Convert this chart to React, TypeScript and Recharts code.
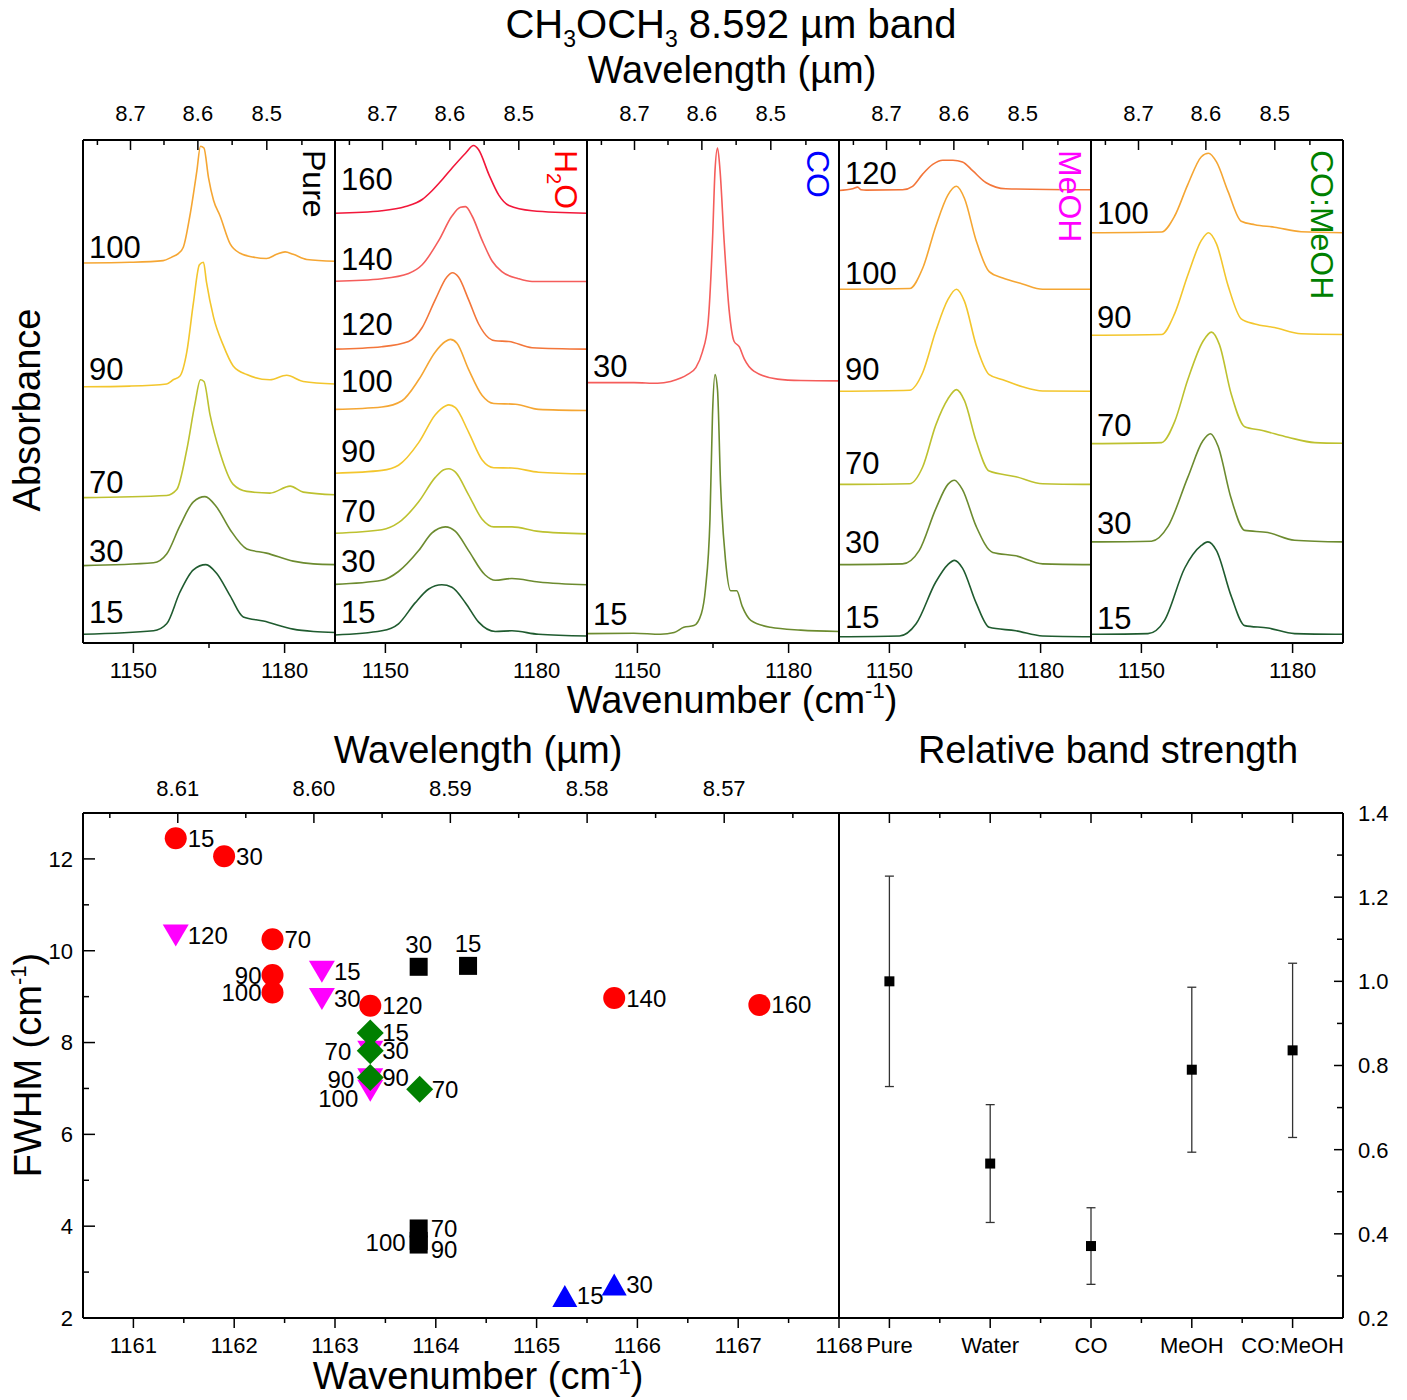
import React from 'react';
import { LineChart, Line, XAxis, YAxis, ReferenceDot, ScatterChart, Scatter, ErrorBar } from 'recharts';

const FONT = '"Liberation Sans", Arial, Helvetica, sans-serif';
type Pt = [number, number];

// ---------------- Spectra (wavenumber cm-1, offset absorbance arb. units) ----------------
const PURE_100: Pt[] = [[1140,380],[1149.3,380.7],[1155.9,382.4],[1157.6,385.9],[1158.9,389.4],[1159.9,395.7],[1161.2,427],[1162.6,472.4],[1163.3,496.8],[1164.0,495],[1164.9,465.4],[1165.9,442.7],[1167.2,427],[1169.2,399.1],[1171.2,389.7],[1173.8,385.9],[1176.4,384.5],[1178.4,388.7],[1180.1,391.1],[1181.7,388.7],[1184.4,383.5],[1190,381.7]];
const PURE_90: Pt[] = [[1140,256.2],[1149.3,256.9],[1156.6,259],[1157.9,263.2],[1159.2,266.7],[1160.6,291.1],[1161.9,339.9],[1163.1,378.2],[1163.9,380.7],[1164.5,360.8],[1165.9,325.9],[1167.8,298.1],[1169.8,277.1],[1172.5,268.4],[1177.1,263.2],[1180.4,267.7],[1183.7,261.5],[1190,259]];
const PURE_70: Pt[] = [[1140,145.4],[1156.6,147.5],[1158.6,153.4],[1160.6,193.5],[1162.2,238.8],[1163.3,263.2],[1164.0,261.5],[1165.2,228.3],[1167.2,190],[1169.8,158.6],[1172.5,151.6],[1177.1,149.9],[1181.1,156.9],[1183.7,150.9],[1190,148.2]];
const PURE_30: Pt[] = [[1140,77.4],[1154,80.2],[1156.6,88.9],[1159.2,116.8],[1161.9,141.2],[1164.2,146.4],[1166.5,136],[1169.2,113.3],[1172.5,94.1],[1176.4,89.9],[1181.7,81.9],[1185.7,79.1],[1190,78.4]];
const PURE_15: Pt[] = [[1140,8.7],[1154,12.2],[1156.6,19.2],[1159.2,50.5],[1161.9,73.2],[1164.4,78.4],[1166.5,69.7],[1169.2,47.1],[1171.8,26.1],[1175.8,22],[1181.7,13.9],[1185.7,11.5],[1190,10.5]];

const H2O_160: Pt[] = [[1140,429.8],[1149.3,432.3],[1154,436.5],[1157.3,443.5],[1159.3,452.5],[1161.3,463.5],[1163.2,474.8],[1165.9,489.8],[1167.5,497.5],[1168.5,493.3],[1170.5,468.9],[1172.5,447.9],[1174.5,437.5],[1179.1,432.3],[1190,429.8]];
const H2O_140: Pt[] = [[1140,361.8],[1149.3,364.3],[1154.6,369.5],[1157.3,378.2],[1160.6,402.6],[1163.2,427],[1164.9,435.8],[1165.9,436.4],[1167.2,427],[1169.2,402.6],[1171.2,381.7],[1173.1,371.3],[1176.4,364.3],[1179.1,361.5],[1190,361.5]];
const H2O_120: Pt[] = [[1140,293.9],[1149.3,296.3],[1154.6,301.5],[1157.3,315.5],[1159.9,343.4],[1162.2,366],[1163.3,370.2],[1164.5,366],[1166.5,343.4],[1168.5,319],[1170.5,305],[1171.8,302.2],[1174.5,301.5],[1179.1,295.3],[1190,293.9]];
const H2O_100: Pt[] = [[1140,233.6],[1149.3,236],[1153.3,242.3],[1156.6,263.2],[1159.9,291.1],[1161.9,301.5],[1162.9,303.6],[1164.2,299.8],[1166.5,273.7],[1169.2,247.5],[1171.5,239.5],[1175.8,238.8],[1180.4,233.6],[1190,232.5]];
const H2O_90: Pt[] = [[1140,169.8],[1149.3,172.6],[1152.6,177.8],[1156.6,200.4],[1159.9,228.3],[1161.9,237.1],[1162.6,238.1],[1163.9,235.3],[1166.5,210.9],[1169.2,183],[1171.5,175.3],[1175.1,175],[1180.4,170.8],[1190,169.1]];
const H2O_70: Pt[] = [[1140,109.8],[1149.3,113.3],[1152.6,120.3],[1156.6,141.2],[1159.9,165.6],[1161.6,173.3],[1162.6,174.3],[1163.9,170.8],[1166.5,148.2],[1169.2,123.8],[1171.5,116.1],[1175.1,116.1],[1180.4,111.6],[1190,109.1]];
const H2O_30: Pt[] = [[1140,58.6],[1149.3,62.7],[1152.6,71.5],[1156.6,92.4],[1159.2,109.8],[1161.9,116.1],[1163.9,111.6],[1166.5,92.4],[1169.8,68],[1171.8,62.7],[1175.1,64.5],[1180.4,61],[1190,58.2]];
const H2O_15: Pt[] = [[1140,8],[1149.3,12.2],[1152.6,19.2],[1155.9,40.1],[1158.6,54],[1161.2,58.2],[1163.2,55.8],[1165.9,40.1],[1168.5,20.9],[1171.8,11.5],[1175.1,12.2],[1180.4,8.7],[1190,7]];

const CO_30: Pt[] = [[1140,260.4],[1149.3,260.4],[1154,259.7],[1156.6,261.5],[1158.6,264.9],[1159.9,268.4],[1161.6,275.4],[1162.9,291.1],[1164,319],[1164.9,402.6],[1165.4,472.4],[1165.9,495],[1166.4,472.4],[1167.2,402.6],[1168.2,332.9],[1169.2,301.5],[1170.2,296.3],[1171.2,284.1],[1173.1,271.9],[1177.8,263.9],[1182.4,262.5],[1190,262.1]];
const CO_15: Pt[] = [[1140,9.4],[1149.3,9.8],[1154.6,8.7],[1157.3,10.5],[1159.2,15.7],[1161.2,17.4],[1162.7,29.6],[1163.5,54],[1164.4,123.8],[1164.9,228.3],[1165.4,268.4],[1165.9,252.7],[1166.5,158.6],[1167.5,81.9],[1168.5,52.3],[1169.7,52.3],[1170.8,36.6],[1172.5,22.7],[1176.4,15.7],[1182.4,12.9],[1190,11.5]];

const MEOH_120: Pt[] = [[1140,452.5],[1142.7,454.2],[1143.7,455.9],[1144.4,453.2],[1145.4,452.9],[1152.6,453.2],[1154.6,456.7],[1156.6,468.9],[1158.6,478.6],[1160.6,482.8],[1162.6,482.8],[1164.5,481.1],[1166.5,472.4],[1169.2,460.2],[1173.1,454.2],[1190,453.2]];
const MEOH_100: Pt[] = [[1140,353.8],[1154,354.5],[1156.6,374.7],[1159.2,416.6],[1161.6,447.9],[1163.3,456.7],[1164.9,444.5],[1167.2,402.6],[1169.8,371.3],[1172.5,365],[1176.4,359.1],[1180.4,353.8],[1190,353.8]];
const MEOH_90: Pt[] = [[1140,251.7],[1154,252.7],[1156.6,270.2],[1159.2,312],[1161.6,343.4],[1163.3,353.8],[1164.9,341.6],[1167.2,298.1],[1169.8,268.4],[1172.5,263.2],[1176.4,256.2],[1180.4,252],[1190,251.7]];
const MEOH_70: Pt[] = [[1140,158.6],[1154,159.3],[1156.6,176],[1159.2,217.9],[1161.6,244],[1163.3,253.4],[1164.9,242.3],[1167.2,202.2],[1169.8,171.9],[1175.1,166.3],[1180.4,159.3],[1190,158.6]];
const MEOH_30: Pt[] = [[1140,78.4],[1152.6,79.1],[1155.9,92.4],[1159.2,134.2],[1161.6,158.6],[1162.9,162.8],[1164.5,153.4],[1167.2,116.8],[1170.5,90.6],[1175.1,87.2],[1180.4,79.1],[1190,78.4]];
const MEOH_15: Pt[] = [[1140,6.3],[1152,7],[1155.3,19.2],[1159.2,61],[1161.6,78.4],[1162.9,82.6],[1164.5,74.9],[1167.2,40.1],[1169.8,15.7],[1175.1,12.2],[1180.4,7],[1190,6.3]];

const COMEOH_100: Pt[] = [[1140,410.3],[1154,411],[1156.6,427],[1159.2,458.4],[1161.9,486.3],[1163.3,489.8],[1164.9,481.1],[1167.2,451.4],[1169.8,421.8],[1172.5,418.3],[1176.4,415.8],[1181.7,411.3],[1190,410.3]];
const COMEOH_90: Pt[] = [[1140,307.8],[1154,308.5],[1156.6,329.4],[1159.2,367.8],[1161.9,402.6],[1163.3,410.3],[1164.9,399.1],[1167.2,357.3],[1169.8,324.2],[1172.5,319],[1176.4,315.5],[1181.7,309.2],[1190,308.5]];
const COMEOH_70: Pt[] = [[1140,199.4],[1154,200.4],[1156.6,221.4],[1159.2,263.2],[1162.2,301.5],[1163.9,310.9],[1165.5,298.1],[1167.8,249.3],[1170.5,216.2],[1173.8,212.7],[1179.1,205.7],[1184.4,200.4],[1190,199.7]];
const COMEOH_30: Pt[] = [[1140,101.1],[1152,101.8],[1155.3,116.8],[1159.2,165.6],[1162.2,202.2],[1163.7,209.2],[1165.2,197],[1167.8,144.7],[1170.5,112.6],[1175.1,110.5],[1180.4,102.8],[1190,101.1]];
const COMEOH_15: Pt[] = [[1140,8.7],[1151.3,9.4],[1154.6,22.7],[1158.6,75],[1161.9,97.6],[1163.2,101.1],[1164.9,92.4],[1167.8,47.1],[1170.5,17.4],[1175.1,15],[1180.4,9.4],[1190,8.7]];

// axis tick values
const WN_DOMAIN: [number, number] = [1140, 1190];
const ABS_DOMAIN: [number, number] = [0, 503];
const WN_TICKS = [1150, 1165, 1180];
const WN_TICK_LABELS = ['1150', '', '1180'];
const WL_TICKS = [8.75, 8.7, 8.65, 8.6, 8.55, 8.5, 8.45];
const WL_TICK_LABELS = ['', '8.7', '', '8.6', '', '8.5', ''];

// ---------------- FWHM vs peak position ----------------
const FW_X_DOMAIN: [number, number] = [1160.5, 1168];
const FW_Y_DOMAIN: [number, number] = [2, 13];
const FW_X_TICKS = [1161, 1161.5, 1162, 1162.5, 1163, 1163.5, 1164, 1164.5, 1165, 1165.5, 1166, 1166.5, 1167, 1167.5, 1168];
const FW_X_LABELS = ['1161', '', '1162', '', '1163', '', '1164', '', '1165', '', '1166', '', '1167', '', '1168'];
const FW_Y_TICKS = [2, 3, 4, 5, 6, 7, 8, 9, 10, 11, 12, 13];
const FW_Y_LABELS = ['2', '', '4', '', '6', '', '8', '', '10', '', '12', ''];
const FW_WL_TICKS = [8.615, 8.61, 8.605, 8.6, 8.595, 8.59, 8.585, 8.58, 8.575, 8.57, 8.565];
const FW_WL_LABELS = ['', '8.61', '', '8.60', '', '8.59', '', '8.58', '', '8.57', ''];

const PURE_T = ['15', '30', '70', '90', '100'];
const PURE_WN = [1164.32, 1163.83, 1163.83, 1163.83, 1163.83];
const PURE_FW = [9.67, 9.65, 3.95, 3.6, 3.68];
const H2O_T = ['15', '30', '70', '90', '100', '120', '140', '160'];
const H2O_WN = [1161.42, 1161.9, 1162.38, 1162.38, 1162.38, 1163.35, 1165.77, 1167.21];
const H2O_FW = [12.45, 12.06, 10.25, 9.47, 9.09, 8.8, 8.97, 8.82];
const CO_T = ['15', '30'];
const CO_WN = [1165.28, 1165.77];
const CO_FW = [2.48, 2.73];
const MEOH_T = ['15', '30', '70', '90', '100', '120'];
const MEOH_WN = [1162.87, 1162.87, 1163.35, 1163.35, 1163.35, 1161.42];
const MEOH_FW = [9.54, 8.95, 7.8, 7.2, 6.95, 10.33];
const COMEOH_T = ['15', '30', '70', '90'];
const COMEOH_WN = [1163.35, 1163.35, 1163.84, 1163.35];
const COMEOH_FW = [8.21, 7.82, 6.98, 7.24];

// ---------------- Relative band strength ----------------
const RBS_CATEGORIES = ['Pure', 'Water', 'CO', 'MeOH', 'CO:MeOH'];
const RBS_VALUES = [1.0, 0.567, 0.371, 0.79, 0.836];
const RBS_ERRORS = [0.25, 0.14, 0.091, 0.196, 0.207];
const RBS_X_TICKS = [1, 1.5, 2, 2.5, 3, 3.5, 4, 4.5, 5];
const RBS_Y_DOMAIN: [number, number] = [0.2, 1.4];
const RBS_Y_TICKS = [0.2, 0.3, 0.4, 0.5, 0.6, 0.7, 0.8, 0.9, 1.0, 1.1, 1.2, 1.3, 1.4];
const RBS_Y_LABELS = ['0.2', '', '0.4', '', '0.6', '', '0.8', '', '1.0', '', '1.2', '', '1.4'];

// ---------------- styling ----------------
const COLORS: Record<string, string> = {
  '15': '#1f5b2f', '30': '#6c8b2f', '70': '#bdc12f', '90': '#f3c62d',
  '100': '#f5a633', '120': '#f3763a', '140': '#f55d5b', '160': '#f2173a',
};
const AXIS_LINE = { stroke: '#000', strokeWidth: 2 };
const TICK_FS = 22;

interface Curve { t: string; pts: Pt[]; color: string; nudge?: number }
interface Panel { key: string; curves: Curve[] }

const PANELS: Panel[] = [
  { key: 'pure', curves: [
    { t: '100', pts: PURE_100, color: COLORS['100'], nudge: 4 },
    { t: '90', pts: PURE_90, color: COLORS['90'], nudge: 2 },
    { t: '70', pts: PURE_70, color: COLORS['70'], nudge: 4 },
    { t: '30', pts: PURE_30, color: COLORS['30'], nudge: 5 },
    { t: '15', pts: PURE_15, color: COLORS['15'], nudge: -2 },
  ] },
  { key: 'h2o', curves: [
    { t: '160', pts: H2O_160, color: COLORS['160'], nudge: -14 },
    { t: '140', pts: H2O_140, color: COLORS['140'], nudge: -2 },
    { t: '120', pts: H2O_120, color: COLORS['120'], nudge: -5 },
    { t: '100', pts: H2O_100, color: COLORS['100'], nudge: -8 },
    { t: '90', pts: H2O_90, color: COLORS['90'], nudge: -2 },
    { t: '70', pts: H2O_70, color: COLORS['70'], nudge: -2 },
    { t: '30', pts: H2O_30, color: COLORS['30'], nudge: -3 },
    { t: '15', pts: H2O_15, color: COLORS['15'], nudge: -3 },
  ] },
  { key: 'co', curves: [
    { t: '30', pts: CO_30, color: COLORS['140'], nudge: 3 },
    { t: '15', pts: CO_15, color: COLORS['30'], nudge: 0 },
  ] },
  { key: 'meoh', curves: [
    { t: '120', pts: MEOH_120, color: COLORS['120'], nudge: 2 },
    { t: '100', pts: MEOH_100, color: COLORS['100'], nudge: 4 },
    { t: '90', pts: MEOH_90, color: COLORS['90'], nudge: -2 },
    { t: '70', pts: MEOH_70, color: COLORS['70'], nudge: -1 },
    { t: '30', pts: MEOH_30, color: COLORS['30'], nudge: -3 },
    { t: '15', pts: MEOH_15, color: COLORS['15'], nudge: 0 },
  ] },
  { key: 'comeoh', curves: [
    { t: '100', pts: COMEOH_100, color: COLORS['100'], nudge: 0 },
    { t: '90', pts: COMEOH_90, color: COLORS['90'], nudge: 2 },
    { t: '70', pts: COMEOH_70, color: COLORS['70'], nudge: 1 },
    { t: '30', pts: COMEOH_30, color: COLORS['30'], nudge: 1 },
    { t: '15', pts: COMEOH_15, color: COLORS['15'], nudge: 4 },
  ] },
];

const toObj = (pts: Pt[]) => pts.map(([x, y]) => ({ x, y }));

type Side = 'top' | 'bottom' | 'left' | 'right';
function makeTick(side: Side, inward: boolean, values: number[], labels: string[], isMajor: (i: number) => boolean,
  majorLen: number, minorLen: number, fontSize: number, offset: number) {
  return (props: any) => {
    const { x, y, payload } = props;
    const v = payload && payload.value;
    let idx = values.findIndex((t) => Math.abs(t - v) < 1e-6);
    if (idx < 0) idx = 0;
    const lab = labels[idx];
    const len = isMajor(idx) ? majorLen : minorLen;
    let x2 = x, y2 = y, tx = x, ty = y;
    let anchor: 'middle' | 'start' | 'end' = 'middle';
    if (side === 'top') { y2 = y + (inward ? len : -len); ty = y - offset; }
    else if (side === 'bottom') { y2 = y + (inward ? -len : len); ty = y + offset; }
    else if (side === 'left') { x2 = x + (inward ? len : -len); tx = x - offset; ty = y + fontSize * 0.36; anchor = 'end'; }
    else { x2 = x + (inward ? -len : len); tx = x + offset; ty = y + fontSize * 0.36; anchor = 'start'; }
    return (
      <g>
        <line x1={x} y1={y} x2={x2} y2={y2} stroke="#000" strokeWidth={1.5} />
        {lab ? <text x={tx} y={ty} textAnchor={anchor} fontSize={fontSize} fontFamily={FONT} fill="#000">{lab}</text> : null}
      </g>
    );
  };
}

const WL_POS = WL_TICKS.map((w) => 10000 / w);
const spBottomTick = makeTick('bottom', false, WN_TICKS, WN_TICK_LABELS, (i) => WN_TICK_LABELS[i] !== '', 10, 5, TICK_FS, 35);
const spTopTick = makeTick('top', true, WL_POS, WL_TICK_LABELS, (i) => WL_TICK_LABELS[i] !== '', 10, 5, TICK_FS, 19);

// axis boxes are 1px thick so that Recharts renders them; margins compensate
function SpectraPanel({ panel, index }: { panel: Panel; index: number }) {
  return (
    <div style={{ position: 'absolute', left: 73 + 252 * index, top: 90 }}>
      <LineChart width={272} height={598} margin={{ top: 49, right: 9, bottom: 44, left: 9 }}>
        <XAxis xAxisId="b" type="number" dataKey="x" domain={WN_DOMAIN} allowDataOverflow ticks={WN_TICKS} interval={0}
          height={1} tickSize={0} tickMargin={0} tickLine={false} axisLine={AXIS_LINE} tick={spBottomTick} />
        <XAxis xAxisId="t" orientation="top" type="number" dataKey="x" domain={WN_DOMAIN} allowDataOverflow ticks={WL_POS} interval={0}
          height={1} tickSize={0} tickMargin={0} tickLine={false} axisLine={AXIS_LINE} tick={spTopTick} />
        <YAxis yAxisId="l" type="number" domain={ABS_DOMAIN} allowDataOverflow width={1} tick={false} tickLine={false} axisLine={AXIS_LINE} />
        <YAxis yAxisId="r" orientation="right" type="number" domain={ABS_DOMAIN} allowDataOverflow width={1} tick={false} tickLine={false} axisLine={AXIS_LINE} />
        {panel.curves.map((c) => (
          <Line key={c.t} xAxisId="b" yAxisId="l" data={toObj(c.pts)} dataKey="y" type="monotone" dot={false} activeDot={false}
            stroke={c.color} strokeWidth={1.6} isAnimationActive={false} />
        ))}
        {panel.curves.map((c) => (
          <ReferenceDot key={'lab' + c.t} xAxisId="b" yAxisId="l" x={c.pts[0][0]} y={c.pts[0][1]} r={0} ifOverflow="visible"
            shape={(p: any) => (
              <text x={p.cx + 6} y={p.cy - 9 + (c.nudge || 0)} fontSize={31} fontFamily={FONT} fill="#000">{c.t}</text>
            )} />
        ))}
      </LineChart>
    </div>
  );
}

// ---------------- FWHM chart ----------------
type Marker = 'square' | 'circle' | 'up' | 'down' | 'diamond';
interface FwSeries { key: string; color: string; marker: Marker; data: { x: number; y: number; t: string }[] }
const mk = (t: string[], wn: number[], fw: number[]) => t.map((tt, i) => ({ x: wn[i], y: fw[i], t: tt }));
const FW_SERIES: FwSeries[] = [
  { key: 'pure', color: '#000000', marker: 'square', data: mk(PURE_T, PURE_WN, PURE_FW) },
  { key: 'h2o', color: '#ff0000', marker: 'circle', data: mk(H2O_T, H2O_WN, H2O_FW) },
  { key: 'co', color: '#0000ff', marker: 'up', data: mk(CO_T, CO_WN, CO_FW) },
  { key: 'meoh', color: '#ff00ff', marker: 'down', data: mk(MEOH_T, MEOH_WN, MEOH_FW) },
  { key: 'comeoh', color: '#008000', marker: 'diamond', data: mk(COMEOH_T, COMEOH_WN, COMEOH_FW) },
];
// label placement (style): side and pixel nudges
const LABEL_STYLE: Record<string, { side: 'right' | 'left' | 'top'; dx?: number; dy?: number }> = {
  'pure-15': { side: 'top' }, 'pure-30': { side: 'top' }, 'pure-100': { side: 'left', dx: -13, dy: 2 },
  'pure-70': { side: 'right', dy: 0 }, 'pure-90': { side: 'right', dy: 5 },
  'h2o-90': { side: 'left', dx: -11 }, 'h2o-100': { side: 'left', dx: -11 },
  'meoh-70': { side: 'left', dx: -19 }, 'meoh-90': { side: 'left', dx: -16 }, 'meoh-100': { side: 'left', dx: -12, dy: 8 },
};

function FwPoint(props: any) {
  const { cx, cy, payload, series } = props as { cx: number; cy: number; payload: any; series: FwSeries };
  const c = series.color;
  let m: React.ReactNode = null;
  if (series.marker === 'square') m = <rect x={cx - 9} y={cy - 9} width={18} height={18} fill={c} />;
  else if (series.marker === 'circle') m = <circle cx={cx} cy={cy} r={11} fill={c} />;
  else if (series.marker === 'up') m = <polygon points={`${cx - 12.5},${cy + 11} ${cx + 12.5},${cy + 11} ${cx},${cy - 11}`} fill={c} />;
  else if (series.marker === 'down') m = <polygon points={`${cx - 13},${cy - 11} ${cx + 13},${cy - 11} ${cx},${cy + 11}`} fill={c} />;
  else m = <polygon points={`${cx},${cy - 13.5} ${cx + 13.5},${cy} ${cx},${cy + 13.5} ${cx - 13.5},${cy}`} fill={c} />;
  const st = LABEL_STYLE[series.key + '-' + payload.t] || { side: 'right' };
  let tx = cx + 12 + (st.dx && st.side === 'right' ? st.dx : 0);
  let ty = cy + 8.5 + (st.dy || 0);
  let anchor: 'start' | 'end' | 'middle' = 'start';
  if (st.side === 'left') { tx = cx + (st.dx ?? -12); anchor = 'end'; }
  if (st.side === 'top') { tx = cx; ty = cy - 14; anchor = 'middle'; }
  return (
    <g>
      {m}
      <text x={tx} y={ty} textAnchor={anchor} fontSize={24} fontFamily={FONT} fill="#000">{payload.t}</text>
    </g>
  );
}

const FW_WL_POS = FW_WL_TICKS.map((w) => 10000 / w);
const fwBottomTick = makeTick('bottom', false, FW_X_TICKS, FW_X_LABELS, (i) => FW_X_LABELS[i] !== '', 10, 5, TICK_FS, 35);
const fwTopTick = makeTick('top', true, FW_WL_POS, FW_WL_LABELS, (i) => FW_WL_LABELS[i] !== '', 10, 5, TICK_FS, 17);
const fwLeftTick = makeTick('left', true, FW_Y_TICKS, FW_Y_LABELS, (i) => FW_Y_LABELS[i] !== '', 12, 6, TICK_FS, 10);

function FwhmChart() {
  return (
    <ScatterChart width={880} height={638} margin={{ top: 52, right: 40, bottom: 79, left: 82 }}>
      <XAxis xAxisId="b" type="number" dataKey="x" domain={FW_X_DOMAIN} allowDataOverflow ticks={FW_X_TICKS} interval={0}
        height={1} tickSize={0} tickMargin={0} tickLine={false} axisLine={AXIS_LINE} tick={fwBottomTick} />
      <XAxis xAxisId="t" orientation="top" type="number" dataKey="x" domain={FW_X_DOMAIN} allowDataOverflow ticks={FW_WL_POS} interval={0}
        height={1} tickSize={0} tickMargin={0} tickLine={false} axisLine={AXIS_LINE} tick={fwTopTick} />
      <YAxis yAxisId="l" type="number" dataKey="y" domain={FW_Y_DOMAIN} allowDataOverflow ticks={FW_Y_TICKS} interval={0}
        width={1} tickSize={0} tickMargin={0} tickLine={false} axisLine={AXIS_LINE} tick={fwLeftTick} />
      <YAxis yAxisId="r" orientation="right" type="number" dataKey="y" domain={FW_Y_DOMAIN} allowDataOverflow width={1}
        tick={false} tickLine={false} axisLine={AXIS_LINE} />
      {FW_SERIES.map((s) => (
        <Scatter key={s.key} xAxisId="b" yAxisId="l" data={s.data} isAnimationActive={false}
          shape={(p: any) => <FwPoint {...p} series={s} />} />
      ))}
    </ScatterChart>
  );
}

// ---------------- Relative band strength chart ----------------
const RBS_DATA = RBS_CATEGORIES.map((c, i) => ({ x: i + 1, y: RBS_VALUES[i], err: RBS_ERRORS[i], name: c }));
const RBS_X_LABELS = RBS_X_TICKS.map((v) => (Number.isInteger(v) ? RBS_CATEGORIES[v - 1] : ''));
const rbsBottomTick = makeTick('bottom', false, RBS_X_TICKS, RBS_X_LABELS, (i) => RBS_X_LABELS[i] !== '', 10, 5, 22, 35);
const rbsTopTick = makeTick('top', true, RBS_X_TICKS, RBS_X_TICKS.map(() => ''), (i) => Number.isInteger(RBS_X_TICKS[i]), 10, 5, 22, 17);
const rbsRightTick = makeTick('right', true, RBS_Y_TICKS, RBS_Y_LABELS, (i) => RBS_Y_LABELS[i] !== '', 9, 6, TICK_FS, 15);

function StrengthChart() {
  return (
    <ScatterChart width={574} height={638} margin={{ top: 52, right: 59, bottom: 79, left: 9 }}>
      <XAxis xAxisId="b" type="number" dataKey="x" domain={[0.5, 5.5]} allowDataOverflow ticks={RBS_X_TICKS} interval={0}
        height={1} tickSize={0} tickMargin={0} tickLine={false} axisLine={AXIS_LINE} tick={rbsBottomTick} />
      <XAxis xAxisId="t" orientation="top" type="number" dataKey="x" domain={[0.5, 5.5]} allowDataOverflow ticks={RBS_X_TICKS} interval={0}
        height={1} tickSize={0} tickMargin={0} tickLine={false} axisLine={AXIS_LINE} tick={rbsTopTick} />
      <YAxis yAxisId="l" type="number" domain={RBS_Y_DOMAIN} allowDataOverflow width={1} tick={false} tickLine={false} axisLine={AXIS_LINE} />
      <YAxis yAxisId="r" orientation="right" type="number" dataKey="y" domain={RBS_Y_DOMAIN} allowDataOverflow ticks={RBS_Y_TICKS} interval={0}
        width={1} tickSize={0} tickMargin={0} tickLine={false} axisLine={AXIS_LINE} tick={rbsRightTick} />
      <Scatter xAxisId="b" yAxisId="r" data={RBS_DATA} isAnimationActive={false}
        shape={(p: any) => <rect x={p.cx - 5} y={p.cy - 5} width={10} height={10} fill="#000" />}>
        <ErrorBar dataKey="err" direction="y" width={4.5} stroke="#333" strokeWidth={1.3} />
      </Scatter>
    </ScatterChart>
  );
}

// ---------------- page ----------------
const PANEL_NAMES = [
  { key: 'pure', color: '#000000' },
  { key: 'h2o', color: '#ff0000' },
  { key: 'co', color: '#0000ff' },
  { key: 'meoh', color: '#ff00ff' },
  { key: 'comeoh', color: '#008000' },
];

function PanelName({ k, color, x }: { k: string; color: string; x: number }) {
  const y = 150;
  const tr = `rotate(90, ${x}, ${y})`;
  if (k === 'h2o') {
    return (
      <text x={x} y={y} transform={tr} fontSize={32} fontFamily={FONT} fill={color}>
        H<tspan fontSize={20} dy={8}>2</tspan><tspan dy={-8}>O</tspan>
      </text>
    );
  }
  const label = k === 'pure' ? 'Pure' : k === 'co' ? 'CO' : k === 'meoh' ? 'MeOH' : 'CO:MeOH';
  return <text x={x} y={y} transform={tr} fontSize={32} fontFamily={FONT} fill={color}>{label}</text>;
}

export default function App() {
  return (
    <div style={{ position: 'absolute', left: 0, top: 0, width: 1407, height: 1400, background: '#fff', fontFamily: FONT, overflow: 'hidden' }}>
      {PANELS.map((p, i) => <SpectraPanel key={p.key} panel={p} index={i} />)}
      <div style={{ position: 'absolute', left: 0, top: 760 }}><FwhmChart /></div>
      <div style={{ position: 'absolute', left: 829, top: 760 }}><StrengthChart /></div>
      <svg width={1407} height={1400} style={{ position: 'absolute', left: 0, top: 0, pointerEvents: 'none' }}>
        <g fontFamily={FONT} fill="#000">
          <text x={731} y={38} textAnchor="middle" fontSize={40}>
            CH<tspan fontSize={23} dy={9}>3</tspan><tspan dy={-9}>OCH</tspan><tspan fontSize={23} dy={9}>3</tspan><tspan dy={-9}> 8.592 µm band</tspan>
          </text>
          <text x={732} y={83} textAnchor="middle" fontSize={38}>Wavelength (µm)</text>
          <text x={732} y={713} textAnchor="middle" fontSize={38}>
            Wavenumber (cm<tspan fontSize={22} dy={-15}>-1</tspan><tspan dy={15}>)</tspan>
          </text>
          <text x={40} y={410} textAnchor="middle" fontSize={38} transform="rotate(-90, 40, 410)">Absorbance</text>
          <text x={478} y={763} textAnchor="middle" fontSize={38}>Wavelength (µm)</text>
          <text x={1108} y={763} textAnchor="middle" fontSize={38}>Relative band strength</text>
          <text x={478} y={1389} textAnchor="middle" fontSize={38}>
            Wavenumber (cm<tspan fontSize={22} dy={-15}>-1</tspan><tspan dy={15}>)</tspan>
          </text>
          <text x={41} y={1065} textAnchor="middle" fontSize={38} transform="rotate(-90, 41, 1065)">
            FWHM (cm<tspan fontSize={22} dy={-15}>-1</tspan><tspan dy={15}>)</tspan>
          </text>
        </g>
        {PANEL_NAMES.map((p, i) => <PanelName key={p.key} k={p.key} color={p.color} x={83 + 252 * (i + 1) - 32} />)}
      </svg>
    </div>
  );
}
